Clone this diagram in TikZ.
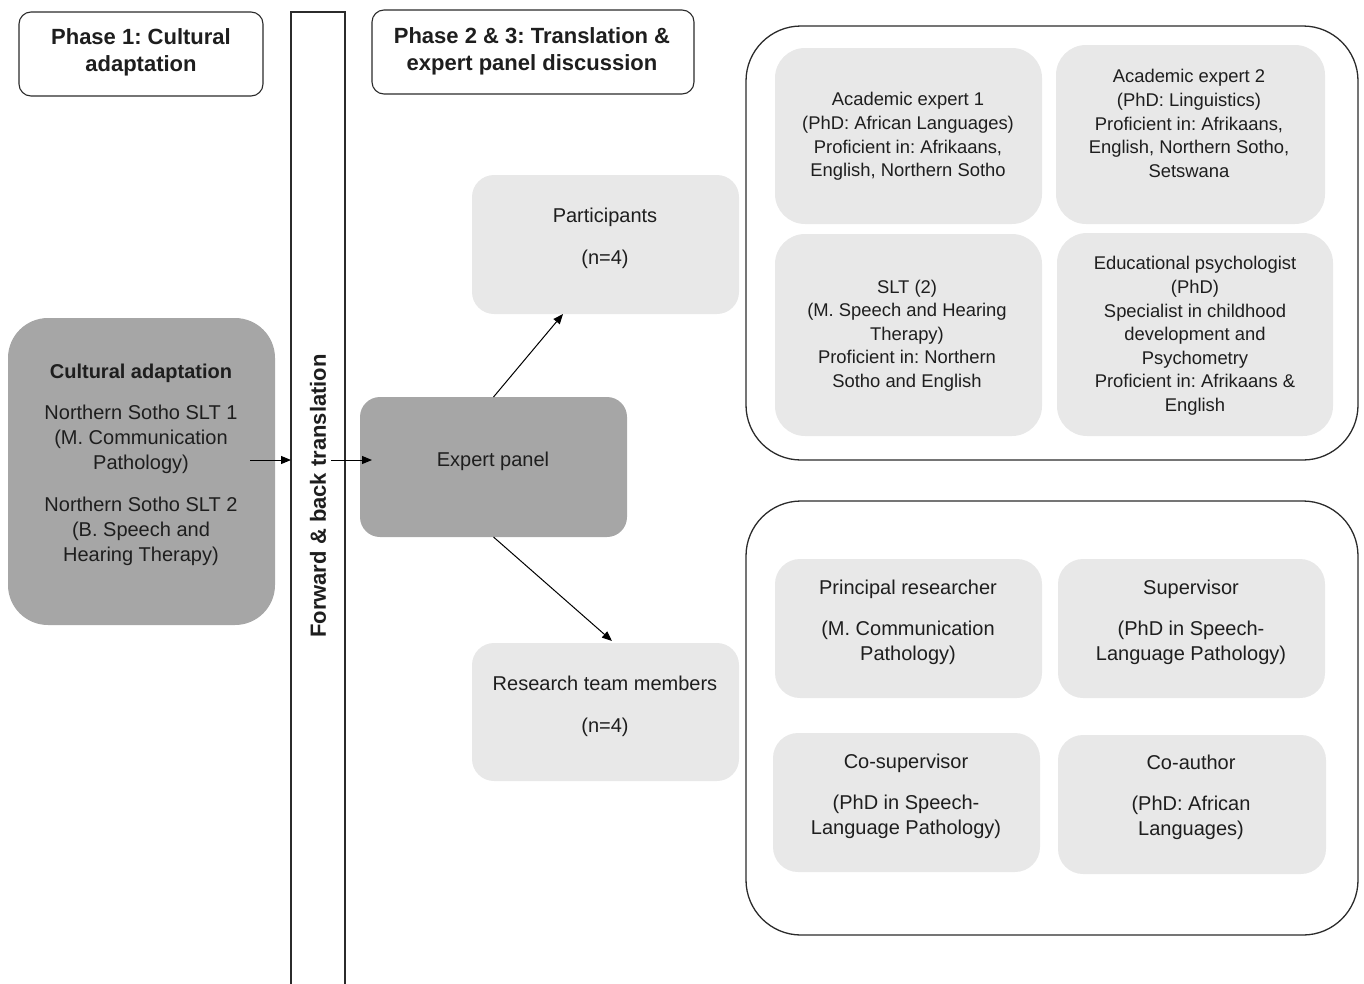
\documentclass[tikz,border=0pt]{standalone}
\usepackage{fontspec}
\setmainfont{Liberation Sans}
\usetikzlibrary{arrows.meta}
\definecolor{panelgray}{HTML}{A6A6A6}
\definecolor{cardgray}{HTML}{E8E8E8}
\definecolor{ink}{HTML}{1E1E1E}
\definecolor{edge}{HTML}{2B2B2B}
\frenchspacing

\begin{document}
\begin{tikzpicture}[x=1pt,y=-1pt,
  every node/.style={inner sep=0pt, outer sep=0pt, text=ink},
  txt/.style={align=center, yshift=-2pt, font=\fontsize{20}{25}\selectfont},
  small/.style={align=center, yshift=-1.5pt, font=\fontsize{18.4}{23.6}\selectfont},
  head/.style={align=center, yshift=-2pt, font=\fontsize{22}{27}\selectfont\bfseries},
  phasebox/.style={draw=edge, line width=1.1pt, rounded corners=12pt, fill=white},
  group/.style={draw=edge, line width=1.3pt, rounded corners=55pt},
  darkcard/.style={fill=panelgray, rounded corners=#1},
  darkcard/.default=20pt,
  card/.style={fill=cardgray, rounded corners=#1},
  card/.default=22pt,
  link/.style={draw=black, line width=1pt, -{Triangle[length=10pt,width=8pt]}}
]
\useasboundingbox (0,0) rectangle (1364,983);

% phase headers
\node (ph1) [phasebox, minimum width=244pt, minimum height=84pt] at (141,54) {};
\node (ph1t) [head] at (141,50.5) {Phase 1: Cultural\\adaptation};
\node (ph2) [phasebox, minimum width=322pt, minimum height=84pt] at (533,52) {};
\node (ph2t) [head] at (532,49.5) {Phase 2 \& 3: Translation \&\\expert panel discussion};

% translation band
\draw[draw=edge, line width=1.3pt] (291,995) -- (291,12) -- (345,12) -- (345,995);
\node (fbt) [head, yshift=2pt, xshift=1pt, rotate=90] at (317,496) {Forward \& back translation};

% phase 1 box
\node (cult) [darkcard=40pt, minimum width=267pt, minimum height=307pt] at (141.5,471.5) {};
\node (cultt) [txt] at (141,462.5) {\textbf{Cultural adaptation}\\[16pt]
  Northern Sotho SLT 1\\(M. Communication\\Pathology)\\[17pt]
  Northern Sotho SLT 2\\(B. Speech and\\Hearing Therapy)};

% expert panel and its two groups
\node (ep) [darkcard=20pt, minimum width=267pt, minimum height=140pt] at (493.5,467) {};
\node (ept) [txt] at (493,459) {Expert panel};

\node (part) [card, minimum width=267pt, minimum height=139pt] at (605.5,244.5) {};
\node (partt) [txt] at (605,236) {Participants\\[17pt](n=4)};

\node (res) [card, minimum width=267pt, minimum height=138pt] at (605.5,712) {};
\node (rest) [txt] at (605,704) {Research team members\\[17pt](n=4)};

% participants group
\node (grp1) [group, minimum width=612pt, minimum height=434pt] at (1052,243) {};
\node (ae1) [card=30pt, minimum width=267pt, minimum height=176pt] at (908.5,136) {};
\node (ae1t) [small] at (908,135) {Academic expert 1\\(PhD: African Languages)\\Proficient in: Afrikaans,\\English, Northern Sotho};
\node (ae2) [card=30pt, minimum width=269pt, minimum height=179pt] at (1190.5,134.5) {};
\node (ae2t) [small] at (1189,122) {Academic expert 2\\(PhD: Linguistics)\\Proficient in: Afrikaans,\\English, Northern Sotho,\\Setswana};
\node (slt) [card=30pt, minimum width=267pt, minimum height=202pt] at (908.5,335) {};
\node (sltt) [small] at (907,334) {SLT (2)\\(M. Speech and Hearing\\Therapy)\\Proficient in: Northern\\Sotho and English};
\node (edu) [card=30pt, minimum width=276pt, minimum height=203pt] at (1195,334.5) {};
\node (edut) [small] at (1195,334.5) {Educational psychologist\\(PhD)\\Specialist in childhood\\development and\\Psychometry\\Proficient in: Afrikaans \&\\English};

% research team group
\node (grp2) [group, minimum width=612pt, minimum height=434pt] at (1052,718) {};
\node (pr) [card=25pt, minimum width=267pt, minimum height=139pt] at (908.5,628.5) {};
\node (prt) [txt] at (908,620) {Principal researcher\\[16pt](M. Communication\\Pathology)};
\node (sup) [card=25pt, minimum width=267pt, minimum height=139pt] at (1191.5,628.5) {};
\node (supt) [txt] at (1191,620) {Supervisor\\[16pt](PhD in Speech-\\Language Pathology)};
\node (cos) [card=25pt, minimum width=267pt, minimum height=139pt] at (906.5,802.5) {};
\node (cost) [txt] at (906,794) {Co-supervisor\\[16pt](PhD in Speech-\\Language Pathology)};
\node (coa) [card=25pt, minimum width=268pt, minimum height=139pt] at (1192,804.5) {};
\node (coat) [txt] at (1191,795.5) {Co-author\\[16pt](PhD: African\\Languages)};

% connectors
\coordinate (c1) at (250,460);
\coordinate (c2) at (291,460);
\coordinate (c3) at (331,460);
\coordinate (c4) at (372,460);
\draw[link] (c1) -- (c2);
\draw[link] (c3) -- (c4);
\draw[link] (ep.north) -- ([xshift=-42.5pt]part.south);
\draw[link] (ep.south) -- ([xshift=6.5pt,yshift=2pt]res.north);
\end{tikzpicture}
\end{document}
